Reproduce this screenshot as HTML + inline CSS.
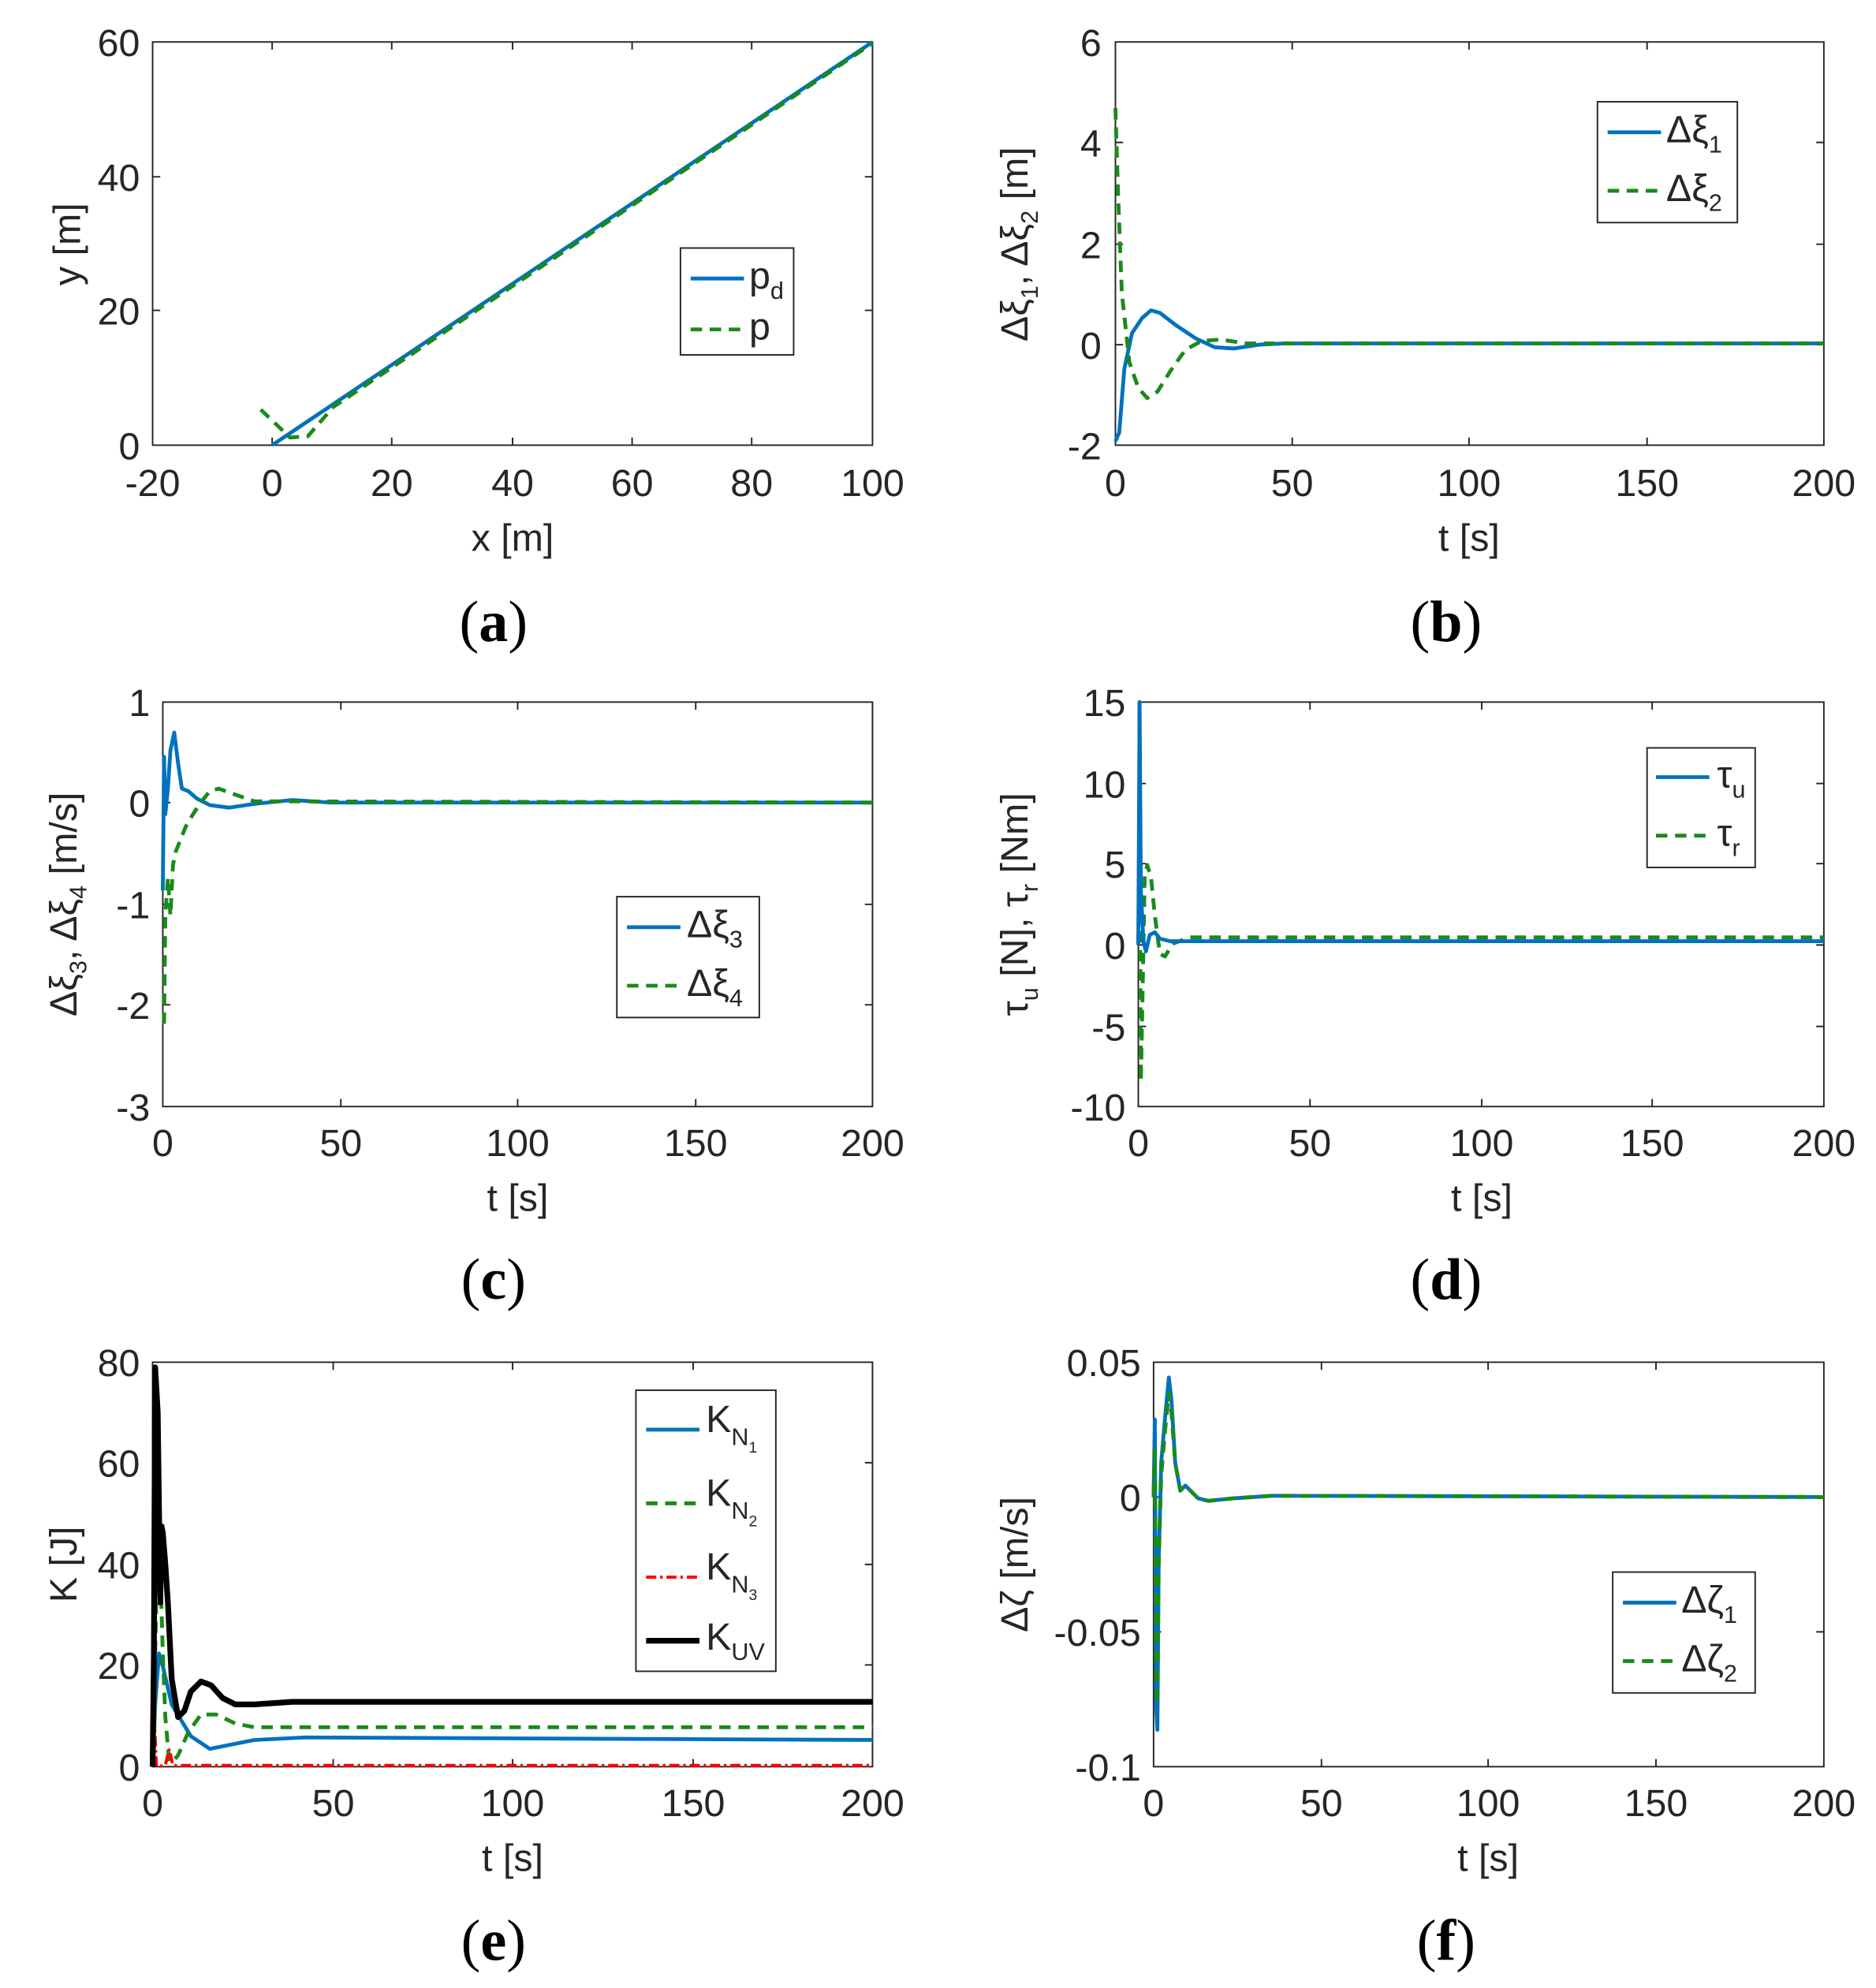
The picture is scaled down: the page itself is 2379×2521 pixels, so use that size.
<!DOCTYPE html>
<html><head><style>
html,body{margin:0;padding:0;background:#fff;}
svg{display:block;}
text{font-family:"Liberation Sans",sans-serif;fill:#262626;}
.t{font-size:30px;}
.cap{font-family:"Liberation Serif",serif;font-size:46px;fill:#000;}
.ax{fill:none;stroke:#262626;stroke-width:1.2;}
.tk{fill:none;stroke:#262626;stroke-width:1.2;}
.b{fill:none;stroke:#0072bd;stroke-width:3;stroke-linejoin:round;}
.g{fill:none;stroke:#1a8a1a;stroke-width:3;stroke-dasharray:9 6;stroke-linejoin:round;}
.r{fill:none;stroke:#ff0000;stroke-width:2.5;stroke-dasharray:8 3 2 3;}
.k{fill:none;stroke:#000;stroke-width:4.5;stroke-linejoin:round;}
.lg{fill:#fff;stroke:#262626;stroke-width:1.2;}
</style></head><body>
<svg id="s" width="2379" height="2521" viewBox="0 0 1475 1563" preserveAspectRatio="none">
<path class="tk" d="
M214,350v-6M214,33v6M308,350v-6M308,33v6M403,350v-6M403,33v6M497,350v-6M497,33v6M591,350v-6M591,33v6
M120,244h6M686,244h-6M120,139h6M686,139h-6
M1016,350v-6M1016,33v6M1155,350v-6M1155,33v6M1295,350v-6M1295,33v6
M877,271h6M1434,271h-6M877,192h6M1434,192h-6M877,112h6M1434,112h-6
M268,870v-6M268,552v6M407,870v-6M407,552v6M547,870v-6M547,552v6
M128,790h6M686,790h-6M128,711h6M686,711h-6M128,631h6M686,631h-6
M1030,870v-6M1030,552v6M1165,870v-6M1165,552v6M1299,870v-6M1299,552v6
M895,807h6M1434,807h-6M895,743h6M1434,743h-6M895,679h6M1434,679h-6M895,616h6M1434,616h-6
M262,1389v-6M262,1071v6M403,1389v-6M403,1071v6M545,1389v-6M545,1071v6
M120,1309h6M686,1309h-6M120,1230h6M686,1230h-6M120,1150h6M686,1150h-6
M1039,1389v-6M1039,1071v6M1170,1389v-6M1170,1071v6M1302,1389v-6M1302,1071v6
M907,1283h6M1434,1283h-6M907,1177h6M1434,1177h-6"/>
<!-- (a) -->
<rect class="ax" x="120" y="33" width="566" height="317"/>
<g class="t" text-anchor="middle">
<text x="120" y="390">-20</text><text x="214" y="390">0</text><text x="308" y="390">20</text><text x="403" y="390">40</text><text x="497" y="390">60</text><text x="591" y="390">80</text><text x="686" y="390">100</text>
</g>
<g class="t" text-anchor="end">
<text x="110" y="361">0</text><text x="110" y="255">20</text><text x="110" y="150">40</text><text x="110" y="44">60</text>
</g>
<text class="t" x="403" y="433" text-anchor="middle">x [m]</text>
<text class="t" transform="translate(63,192) rotate(-90)" text-anchor="middle">y [m]</text>
<path class="b" d="M214,350 L686,33"/>
<path class="g" d="M205,322 L228,344 L242,343 L262,320 L686,34"/>
<rect class="lg" x="535" y="195" width="89" height="84"/>
<path class="b" d="M543,219 L585,219"/><path class="g" d="M543,259 L585,259"/>
<text class="t" x="589" y="227">p<tspan font-size="19" dy="8">d</tspan></text>
<text class="t" x="589" y="267">p</text>
<text class="cap" x="388" y="504" text-anchor="middle">(<tspan font-weight="bold">a</tspan>)</text>

<!-- (b) -->
<rect class="ax" x="877" y="33" width="557" height="317"/>
<g class="t" text-anchor="middle">
<text x="877" y="390">0</text><text x="1016" y="390">50</text><text x="1155" y="390">100</text><text x="1295" y="390">150</text><text x="1434" y="390">200</text>
</g>
<g class="t" text-anchor="end">
<text x="866" y="361">-2</text><text x="866" y="282">0</text><text x="866" y="203">2</text><text x="866" y="123">4</text><text x="866" y="44">6</text>
</g>
<text class="t" x="1155" y="433" text-anchor="middle">t [s]</text>
<text class="t" transform="translate(808,192) rotate(-90)" text-anchor="middle">Δξ<tspan font-size="19" dy="8">1</tspan><tspan dy="-8">, Δξ</tspan><tspan font-size="19" dy="8">2</tspan><tspan dy="-8"> [m]</tspan></text>
<path class="b" d="M877,347 L880,340 L884,290 L890,262 L898,250 L905,244 L912,246 L925,256 L940,266 L955,273 L970,274 L990,271 L1010,270 L1434,270"/>
<path class="g" d="M877,85 L879,150 L882,230 L888,285 L895,305 L902,313 L910,308 L920,292 L932,275 L945,268 L960,267 L980,270 L1434,270"/>
<rect class="lg" x="1256" y="80" width="110" height="95"/>
<path class="b" d="M1264,104 L1306,104"/><path class="g" d="M1264,150 L1306,150"/>
<text class="t" x="1310" y="112">Δξ<tspan font-size="19" dy="8">1</tspan></text>
<text class="t" x="1310" y="158">Δξ<tspan font-size="19" dy="8">2</tspan></text>
<text class="cap" x="1137" y="504" text-anchor="middle">(<tspan font-weight="bold">b</tspan>)</text>

<!-- (c) -->
<rect class="ax" x="128" y="552" width="558" height="318"/>
<g class="t" text-anchor="middle">
<text x="128" y="909">0</text><text x="268" y="909">50</text><text x="407" y="909">100</text><text x="547" y="909">150</text><text x="686" y="909">200</text>
</g>
<g class="t" text-anchor="end">
<text x="118" y="881">-3</text><text x="118" y="801">-2</text><text x="118" y="722">-1</text><text x="118" y="642">0</text><text x="118" y="563">1</text>
</g>
<text class="t" x="407" y="952" text-anchor="middle">t [s]</text>
<text class="t" transform="translate(60,711) rotate(-90)" text-anchor="middle">Δξ<tspan font-size="19" dy="8">3</tspan><tspan dy="-8">, Δξ</tspan><tspan font-size="19" dy="8">4</tspan><tspan dy="-8"> [m/s]</tspan></text>
<path class="b" d="M128,700 L129,595 L130,640 L132,620 L134,590 L137,576 L140,600 L143,620 L148,622 L155,628 L165,633 L180,635 L200,632 L230,629 L260,631 L686,631"/>
<path class="g" d="M129,805 L130,720 L132,690 L134,720 L136,680 L138,670 L142,660 L146,650 L150,643 L157,632 L165,622 L172,620 L180,623 L200,630 L686,631"/>
<rect class="lg" x="485" y="705" width="112" height="95"/>
<path class="b" d="M493,729 L535,729"/><path class="g" d="M493,775 L535,775"/>
<text class="t" x="540" y="737">Δξ<tspan font-size="19" dy="8">3</tspan></text>
<text class="t" x="540" y="783">Δξ<tspan font-size="19" dy="8">4</tspan></text>
<text class="cap" x="388" y="1021" text-anchor="middle">(<tspan font-weight="bold">c</tspan>)</text>

<!-- (d) -->
<rect class="ax" x="895" y="552" width="539" height="318"/>
<g class="t" text-anchor="middle">
<text x="895" y="909">0</text><text x="1030" y="909">50</text><text x="1165" y="909">100</text><text x="1299" y="909">150</text><text x="1434" y="909">200</text>
</g>
<g class="t" text-anchor="end">
<text x="885" y="881">-10</text><text x="885" y="818">-5</text><text x="885" y="754">0</text><text x="885" y="690">5</text><text x="885" y="627">10</text><text x="885" y="563">15</text>
</g>
<text class="t" x="1165" y="952" text-anchor="middle">t [s]</text>
<text class="t" transform="translate(808,711) rotate(-90)" text-anchor="middle">τ<tspan font-size="19" dy="8">u</tspan><tspan dy="-8"> [N], τ</tspan><tspan font-size="19" dy="8">r</tspan><tspan dy="-8"> [Nm]</tspan></text>
<path class="g" d="M895,743 L896,640 L897,850 L898,800 L900,690 L902,680 L905,690 L908,720 L912,750 L916,752 L922,742 L935,737 L1434,737"/>
<path class="b" d="M895,743 L896,552 L897,700 L899,740 L901,748 L904,735 L908,733 L912,738 L920,740 L1434,740"/>
<rect class="lg" x="1295" y="588" width="85" height="94"/>
<path class="b" d="M1302,611 L1344,611"/><path class="g" d="M1302,657 L1344,657"/>
<text class="t" x="1350" y="619">τ<tspan font-size="19" dy="8">u</tspan></text>
<text class="t" x="1350" y="665">τ<tspan font-size="19" dy="8">r</tspan></text>
<text class="cap" x="1137" y="1021" text-anchor="middle">(<tspan font-weight="bold">d</tspan>)</text>

<!-- (e) -->
<rect class="ax" x="120" y="1071" width="566" height="318"/>
<g class="t" text-anchor="middle">
<text x="120" y="1428">0</text><text x="262" y="1428">50</text><text x="403" y="1428">100</text><text x="545" y="1428">150</text><text x="686" y="1428">200</text>
</g>
<g class="t" text-anchor="end">
<text x="110" y="1400">0</text><text x="110" y="1320">20</text><text x="110" y="1241">40</text><text x="110" y="1161">60</text><text x="110" y="1082">80</text>
</g>
<text class="t" x="403" y="1471" text-anchor="middle">t [s]</text>
<text class="t" transform="translate(60,1230) rotate(-90)" text-anchor="middle">K [J]</text>
<path class="b" d="M120,1389 L122,1340 L125,1300 L128,1310 L135,1340 L150,1365 L165,1375 L180,1372 L200,1368 L240,1366 L686,1368"/>
<path class="g" d="M121,1389 L122,1300 L124,1210 L126,1230 L128,1300 L130,1350 L133,1385 L136,1385 L140,1380 L148,1362 L158,1348 L170,1348 L185,1355 L200,1358 L686,1358"/>
<path class="r" d="M120,1389 L121,1345 L123,1389 L130,1388 L133,1375 L136,1388 L686,1388"/>
<path class="k" d="M120,1389 L121,1300 L122,1075 L124,1110 L126,1260 L127,1200 L128,1205 L130,1230 L132,1260 L135,1320 L140,1350 L145,1345 L150,1330 L158,1322 L166,1325 L175,1335 L185,1340 L200,1340 L230,1338 L686,1338"/>
<rect class="lg" x="500" y="1093" width="110" height="221"/>
<path class="b" d="M508,1124 L550,1124"/><path class="g" d="M508,1182 L550,1182"/>
<path class="r" d="M508,1240 L550,1240"/><path class="k" d="M508,1290 L550,1290"/>
<text class="t" x="555" y="1126">K<tspan font-size="19" dy="10">N</tspan><tspan font-size="12" dy="6">1</tspan></text>
<text class="t" x="555" y="1184">K<tspan font-size="19" dy="10">N</tspan><tspan font-size="12" dy="6">2</tspan></text>
<text class="t" x="555" y="1242">K<tspan font-size="19" dy="10">N</tspan><tspan font-size="12" dy="6">3</tspan></text>
<text class="t" x="555" y="1297">K<tspan font-size="19" dy="8">UV</tspan></text>
<text class="cap" x="388" y="1541" text-anchor="middle">(<tspan font-weight="bold">e</tspan>)</text>

<!-- (f) -->
<rect class="ax" x="907" y="1071" width="527" height="318"/>
<g class="t" text-anchor="middle">
<text x="907" y="1428">0</text><text x="1039" y="1428">50</text><text x="1170" y="1428">100</text><text x="1302" y="1428">150</text><text x="1434" y="1428">200</text>
</g>
<g class="t" text-anchor="end">
<text x="897" y="1400">-0.1</text><text x="897" y="1294">-0.05</text><text x="897" y="1188">0</text><text x="897" y="1082">0.05</text>
</g>
<text class="t" x="1170" y="1471" text-anchor="middle">t [s]</text>
<text class="t" transform="translate(808,1230) rotate(-90)" text-anchor="middle">Δζ [m/s]</text>
<path class="b" d="M907,1177 L908,1116 L909,1340 L910,1360 L911,1230 L913,1150 L916,1115 L919,1083 L921,1100 L924,1150 L928,1172 L932,1168 L936,1172 L942,1178 L950,1180 L970,1178 L1000,1176 L1434,1177"/>
<path class="g" d="M907,1177 L908,1140 L909,1320 L910,1340 L911,1230 L913,1160 L916,1125 L919,1095 L921,1110 L924,1150 L928,1172 L932,1168 L936,1172 L942,1178 L950,1180 L970,1178 L1000,1176 L1434,1177"/>
<rect class="lg" x="1268" y="1236" width="112" height="95"/>
<path class="b" d="M1276,1260 L1318,1260"/><path class="g" d="M1276,1306 L1318,1306"/>
<text class="t" x="1322" y="1268">Δζ<tspan font-size="19" dy="8">1</tspan></text>
<text class="t" x="1322" y="1314">Δζ<tspan font-size="19" dy="8">2</tspan></text>
<text class="cap" x="1137" y="1541" text-anchor="middle">(<tspan font-weight="bold">f</tspan>)</text>
</svg>
</body></html>
